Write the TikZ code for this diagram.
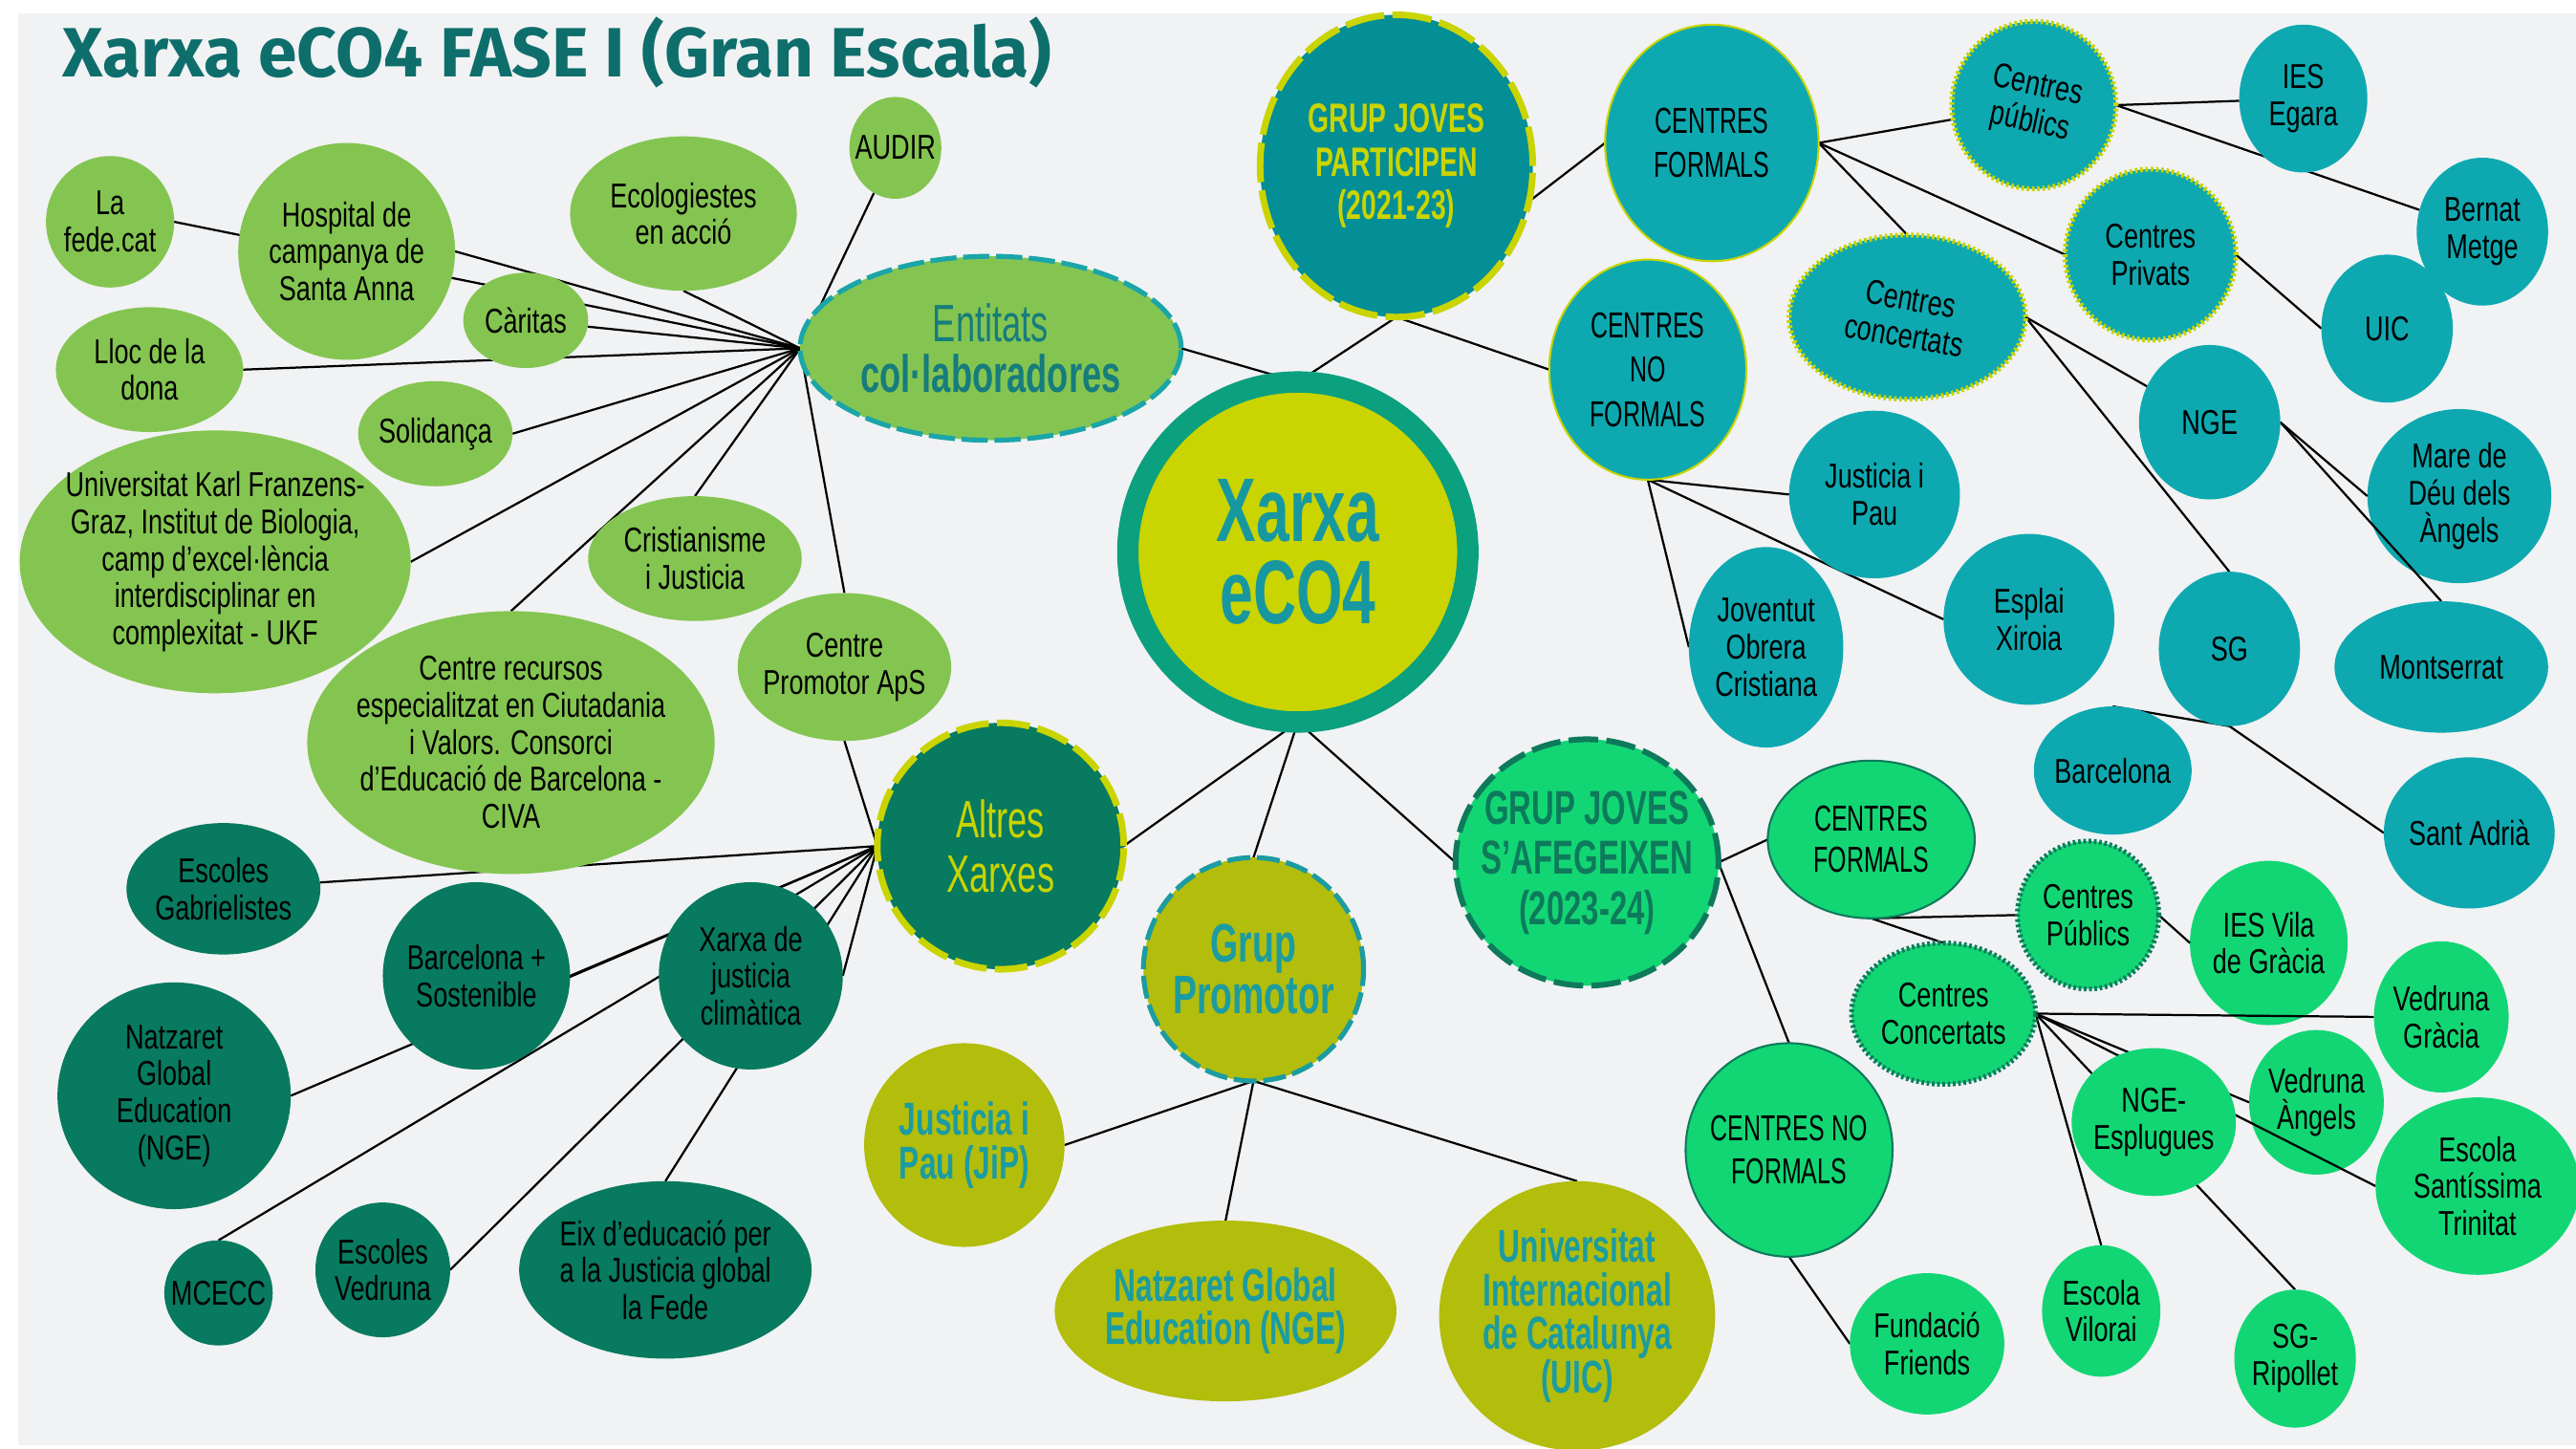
\documentclass[tikz,border=0pt]{standalone}
\usepackage{fontspec}
\setmainfont{Liberation Sans}[FakeStretch=0.75]
\newfontfamily\cnd{Liberation Sans}[FakeStretch=0.66]
\newfontfamily\titlefont{Fira Sans}
\usetikzlibrary{shapes.geometric}
\pgfdeclarelayer{bgl}\pgfdeclarelayer{lown}\pgfdeclarelayer{edgel}
\pgfsetlayers{bgl,lown,edgel,main}
\definecolor{bgc}{HTML}{F1F2F4}
\definecolor{lgr}{HTML}{84C551}
\definecolor{tealE}{HTML}{1BA5A8}
\definecolor{entTxt}{HTML}{167C7C}
\definecolor{ring}{HTML}{0BA07E}
\definecolor{yel}{HTML}{C9D400}
\definecolor{xtxt}{HTML}{1798A0}
\definecolor{gjpF}{HTML}{048E95}
\definecolor{tealN}{HTML}{0EA9B0}
\definecolor{brg}{HTML}{12D674}
\definecolor{dkgb}{HTML}{0E7A5C}
\definecolor{olive}{HTML}{B2BD0C}
\definecolor{oliveTxt}{HTML}{1B9CA0}
\definecolor{dkg}{HTML}{077A5F}
\definecolor{titleC}{HTML}{0E6E6C}
\tikzset{
 nd/.style={ellipse, inner sep=0pt, outer sep=0pt},
 sz/.style 2 args={minimum width=#1pt, minimum height=#2pt},
 lg/.style={nd, fill=lgr},
 tl/.style={nd, fill=tealN},
 bgn/.style={nd, fill=brg},
 ol/.style={nd, fill=olive},
 dg/.style={nd, fill=dkg},
 sm/.style={align=center, inner sep=0pt, text=black, font=\fontsize{21}{22.5}\selectfont},
 smc/.style={align=center, inner sep=0pt, text=black, font=\cnd\fontsize{22}{27}\selectfont},
 olt/.style={align=center, inner sep=0pt, text=oliveTxt, font=\cnd\fontsize{28}{26.5}\selectfont\bfseries},
 edge/.style={draw=black, line width=1.3pt},
 ybord/.style={draw=yel, line width=1.2pt},
 ydot/.style={draw=yel, line width=3pt, dash pattern=on 1.6pt off 1.6pt},
 gbord/.style={draw=dkgb, line width=1.2pt},
 gdot/.style={draw=dkgb, line width=3pt, dash pattern=on 1.6pt off 1.6pt},
}
\begin{document}
\begin{tikzpicture}[x=1pt, y=-1pt]
\useasboundingbox (0,0) rectangle (1568,881.5);
\begin{pgfonlayer}{bgl}
\fill[bgc] (11,8) rectangle (1568,879.5);
\end{pgfonlayer}
\node[anchor=base west, inner sep=0pt, text=titleC, font=\titlefont\fontsize{42.5}{44}\selectfont\bfseries] (title) at (38,47) {Xarxa eCO4 FASE I (Gran Escala)};

% ---- Entitats col·laboradores
\node[lg, sz={56}{62}, label={[sm]center:AUDIR}] (audir) at (545,90) {};
\node[lg, sz={78}{80}, label={[sm]center:{La\\fede.cat}}] (lafede) at (67,135) {};
\node[lg, sz={132}{132}, label={[sm]center:{Hospital de\\campanya de\\Santa Anna}}] (hosp) at (211,153) {};
\node[lg, sz={138}{94}, label={[sm]center:{Ecologiestes\\en acció}}] (eco) at (416,130) {};
\node[lg, sz={76}{58}, label={[sm]center:Càritas}] (caritas) at (320,195) {};
\node[lg, sz={114}{76}, label={[sm]center:{Lloc de la\\dona}}] (lloc) at (91,225) {};
\node[lg, sz={94}{64}, label={[sm]center:Solidança}] (solid) at (265,264) {};
\node[lg, sz={238}{160}, label={[sm]center:{Universitat Karl Franzens-\\Graz, Institut de Biologia,\\camp d’excel·lència\\interdisciplinar en\\complexitat - UKF}}] (ukf) at (131,342) {};
\node[lg, sz={130}{76}, label={[sm]center:{Cristianisme\\i Justicia}}] (cris) at (423,340) {};
\node[lg, sz={248}{160}, label={[sm]center:{Centre recursos\\especialitzat en Ciutadania\\i Valors. Consorci\\d’Educació de Barcelona -\\CIVA}}] (civa) at (311,452) {};
\node[lg, sz={130}{90}, label={[sm]center:{Centre\\Promotor ApS}}] (cpa) at (514,406) {};
\node[lg, draw=tealE, line width=3pt, dash pattern=on 16pt off 4pt, sz={232}{112}, label={[align=center, inner sep=0pt, text=entTxt, font=\cnd\fontsize{32}{31}\selectfont]center:{Entitats\\\textbf{col·laboradores}}}] (ent) at (603,212) {};

% ---- centre
\node[nd, circle, fill=yel, draw=ring, line width=13pt, minimum size=207pt, label={[align=center, inner sep=0pt, text=xtxt, font=\cnd\fontsize{55}{50}\selectfont\bfseries]center:{Xarxa\\eCO4}}] (xarxa) at (790,336) {};

% ---- Grup joves participen
\node[nd, fill=gjpF, draw=yel, line width=4pt, dash pattern=on 24pt off 5pt, sz={166}{184}, label={[align=center, inner sep=0pt, text=yel, font=\cnd\fontsize{25}{26.5}\selectfont\bfseries]center:{GRUP JOVES\\PARTICIPEN\\(2021-23)}}] (gjp) at (850,101) {};
\node[tl, ybord, sz={130}{144}, label={[smc]center:{CENTRES\\FORMALS}}] (cf) at (1042,87) {};
\node[tl, ybord, sz={120}{134}, label={[smc]center:{CENTRES\\NO\\FORMALS}}] (cnf) at (1003,225) {};
\node[tl, ydot, sz={100}{102}, label={[sm, rotate=-12]center:{Centres\\públics}}] (cpub) at (1238,64) {};
\node[tl, ydot, sz={104}{104}, label={[sm]center:{Centres\\Privats}}] (cpriv) at (1309,155) {};
\node[tl, ydot, sz={144}{100}, label={[sm, rotate=-10]center:{Centres\\concertats}}] (ccon) at (1161,193) {};
\node[tl, sz={78}{90}, label={[sm]center:{IES\\Egara}}] (ies) at (1402,60) {};
\node[tl, sz={80}{90}, label={[sm]center:UIC}] (uic) at (1453,200) {};
\node[tl, sz={80}{90}, label={[sm]center:{Bernat\\Metge}}] (bernat) at (1511,141) {};
\node[tl, sz={86}{94}, label={[sm]center:NGE}] (nge) at (1345,257) {};
\begin{pgfonlayer}{lown}
\node[tl, sz={112}{106}, label={[sm]center:{Mare de\\Déu dels\\Àngels}}] (mare) at (1497,302) {};
\end{pgfonlayer}
\node[tl, sz={104}{102}, label={[sm]center:{Justicia i\\Pau}}] (jipT) at (1141,301) {};
\node[tl, sz={104}{104}, label={[sm]center:{Esplai\\Xiroia}}] (esp) at (1235,377) {};
\node[tl, sz={94}{122}, label={[sm]center:{Joventut\\Obrera\\Cristiana}}] (joc) at (1075,394) {};
\node[tl, sz={86}{94}, label={[sm]center:SG}] (sg) at (1357,395) {};
\node[tl, sz={130}{80}, label={[sm]center:Montserrat}] (mont) at (1486,406) {};
\node[tl, sz={96}{78}, label={[sm]center:Barcelona}] (bcn) at (1286,469) {};
\node[tl, sz={104}{92}, label={[sm]center:{Sant Adrià}}] (sadr) at (1503,507) {};

% ---- Grup joves s'afegeixen
\node[bgn, draw=dkgb, line width=3.5pt, dash pattern=on 18pt off 5pt, sz={160}{150}, label={[align=center, inner sep=0pt, text=dkgb, font=\cnd\fontsize{29}{30.5}\selectfont\bfseries]center:{GRUP JOVES\\S’AFEGEIXEN\\(2023-24)}}] (gsa) at (966,525) {};
\node[bgn, gbord, sz={126}{96}, label={[smc, font=\cnd\fontsize{22}{25}\selectfont]center:{CENTRES\\FORMALS}}] (cf2) at (1139,511) {};
\node[bgn, gbord, sz={126}{130}, label={[smc, font=\cnd\fontsize{22}{26}\selectfont]center:{CENTRES NO\\FORMALS}}] (cnf2) at (1089,700) {};
\node[bgn, gdot, sz={86}{90}, label={[sm]center:{Centres\\Públics}}] (cpub2) at (1271,557) {};
\node[bgn, gdot, sz={112}{86}, label={[sm]center:{Centres\\Concertats}}] (cc2) at (1183,617) {};
\begin{pgfonlayer}{lown}
\node[bgn, sz={96}{100}, label={[sm]center:{IES Vila\\de Gràcia}}] (iesv) at (1381,574) {};
\node[bgn, sz={82}{88}, label={[sm]center:{Vedruna\\Àngels}}] (veda) at (1410,671) {};
\end{pgfonlayer}
\node[bgn, sz={82}{92}, label={[sm]center:{Vedruna\\Gràcia}}] (vedg) at (1486,619) {};
\node[bgn, sz={100}{90}, label={[sm]center:{NGE-\\Esplugues}}] (ngee) at (1311,683) {};
\node[bgn, sz={124}{108}, label={[sm]center:{Escola\\Santíssima\\Trinitat}}] (sant) at (1508,722) {};
\node[bgn, sz={72}{80}, label={[sm]center:{Escola\\Vilorai}}] (vil) at (1279,798) {};
\node[bgn, sz={74}{84}, label={[sm]center:{SG-\\Ripollet}}] (sgr) at (1397,827) {};
\node[bgn, sz={94}{86}, label={[sm]center:{Fundació\\Friends}}] (fri) at (1173,818) {};

% ---- Grup promotor
\node[ol, draw=oliveTxt, line width=3pt, dash pattern=on 14pt off 4pt, sz={134}{136}, label={[align=center, inner sep=0pt, text=oliveTxt, font=\cnd\fontsize{33}{31}\selectfont\bfseries]center:{Grup\\Promotor}}] (gp) at (763,590) {};
\node[ol, sz={122}{124}, label={[olt]center:{Justicia i\\Pau (JiP)}}] (jipO) at (587,697) {};
\node[ol, sz={208}{110}, label={[olt]center:{Natzaret Global\\Education (NGE)}}] (ngeO) at (746,798) {};
\node[ol, sz={168}{164}, label={[olt]center:{Universitat\\Internacional\\de Catalunya\\(UIC)}}] (uicO) at (960,801) {};

% ---- Altres xarxes
\node[dg, draw=yel, line width=4pt, dash pattern=on 20pt off 5pt, sz={150}{150}, label={[align=center, inner sep=0pt, text=yel, font=\cnd\fontsize{32}{33}\selectfont]center:{Altres\\Xarxes}}] (alt) at (609,515) {};
\node[dg, sz={118}{80}, label={[sm]center:{Escoles\\Gabrielistes}}] (gab) at (136,541) {};
\node[dg, sz={114}{114}, label={[sm]center:{Barcelona +\\Sostenible}}] (bcs) at (290,594) {};
\node[dg, sz={112}{114}, label={[sm]center:{Xarxa de\\justicia\\climàtica}}] (xjc) at (457,594) {};
\node[dg, sz={142}{138}, label={[sm]center:{Natzaret\\Global\\Education\\(NGE)}}] (ngeD) at (106,667) {};
\node[dg, sz={66}{64}, label={[sm]center:MCECC}] (mcecc) at (133,787) {};
\node[dg, sz={82}{82}, label={[sm]center:{Escoles\\Vedruna}}] (vedr) at (233,773) {};
\node[dg, sz={178}{108}, label={[sm]center:{Eix d’educació per\\a la Justicia global\\la Fede}}] (eix) at (405,773) {};

% ---- connectors
\begin{pgfonlayer}{edgel}
\draw[edge] (ent.west) -- (audir);
\draw[edge] (ent.west) -- (eco.south);
\draw[edge] (ent.west) -- (hosp.east);
\draw[edge] (ent.west) -- (lafede.east);
\draw[edge] (ent.west) -- (caritas);
\draw[edge] (ent.west) -- (lloc.east);
\draw[edge] (ent.west) -- (solid.east);
\draw[edge] (ent.west) -- (ukf.east);
\draw[edge] (ent.west) -- (civa.north);
\draw[edge] (ent.west) -- (cris.north);
\draw[edge] (ent.west) -- (cpa.north);
\draw[edge] (cpa.south) -- (alt.west);
\draw[edge] (ent.east) -- (xarxa.north);
\draw[edge] (gjp.south) -- (xarxa.north);
\draw[edge] (gjp.south) -- (cnf.west);
\draw[edge] (gjp.-15) -- (cf.west);
\draw[edge] (cf.east) -- (cpub);
\draw[edge] (cf.east) -- (cpriv.west);
\draw[edge] (cf.east) -- (ccon.north);
\draw[edge] (cpub.east) -- (ies);
\draw[edge] (cpub.east) -- (bernat);
\draw[edge] (cpriv.east) -- (uic.west);
\draw[edge] (ccon.east) -- (nge);
\draw[edge] (ccon.east) -- (sg.north);
\draw[edge] (nge.east) -- (mare.west);
\draw[edge] (nge.east) -- (mont.north);
\draw[edge] (cnf.south) -- (jipT.west);
\draw[edge] (cnf.south) -- (esp.west);
\draw[edge] (cnf.south) -- (joc.west);
\draw[edge] (sg.south) -- (bcn.north);
\draw[edge] (sg.south) -- (sadr.west);
\draw[edge] (xarxa.south) -- (gsa.west);
\draw[edge] (xarxa.south) -- (gp.north);
\draw[edge] (xarxa.south) -- (alt.east);
\draw[edge] (gsa.east) -- (cf2.west);
\draw[edge] (gsa.east) -- (cnf2.north);
\draw[edge] (cf2.south) -- (cpub2.west);
\draw[edge] (cf2.south) -- (cc2.north);
\draw[edge] (cpub2.east) -- (iesv.west);
\draw[edge] (cc2.east) -- (vedg.west);
\draw[edge] (cc2.east) -- (veda.west);
\draw[edge] (cc2.east) -- (sant.west);
\draw[edge] (cc2.east) -- (sgr.north);
\draw[edge] (cc2.east) -- (vil.north);
\draw[edge] (cnf2.south) -- (fri.west);
\draw[edge] (gp.south) -- (jipO.east);
\draw[edge] (gp.south) -- (ngeO.north);
\draw[edge] (gp.south) -- (uicO.north);
\draw[edge] (alt.west) -- (gab);
\draw[edge] (alt.west) -- (bcs.east);
\draw[edge] (alt.west) -- (ngeD.east);
\draw[edge] (alt.west) -- (mcecc.north);
\draw[edge] (alt.west) -- (vedr.east);
\draw[edge] (alt.west) -- (eix.north);
\draw[edge] (alt.west) -- (xjc.east);
\end{pgfonlayer}
\end{tikzpicture}
\end{document}
